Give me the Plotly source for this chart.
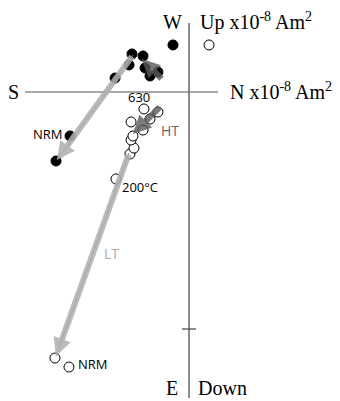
import plotly.graph_objects as go

# Zijderveld diagram data (units x10^-8 Am^2)
# Horizontal projection (filled): N vs W
hz_n = [-1.004, -1.122, -0.624, -0.506, -0.481, -0.388, -0.371, -0.329, -0.262, -0.135]
hz_w = [-0.371, -0.582, 0.118, 0.228, 0.321, 0.304, 0.203, 0.135, 0.169, 0.397]
# Vertical projection (open): N vs Up
vt_n = [-1.013, -1.131, -0.616, -0.498, -0.464, -0.489, -0.473, -0.388, -0.329, -0.262, -0.489, -0.380, 0.169]
vt_up = [-2.321, -2.245, -0.734, -0.523, -0.473, -0.405, -0.371, -0.321, -0.228, -0.169, -0.253, -0.143, 0.397]

# Component fits: [start_n, start_y, end_n, end_y]
lt_h = [-0.473, 0.312, -1.114, -0.574]
lt_v = [-0.506, -0.515, -1.122, -2.228]
ht_h = [-0.219, 0.101, -0.397, 0.278]
ht_v = [-0.236, -0.118, -0.473, -0.354]

n_axis = [-1.384, 0.245]
v_axis = [0.582, -2.582]
tick_v = [-2.0]

S = 118.5
OFF = 8  # page body margin
x_range = [(OFF - 189) / S, (340 - 189) / S]
y_range = [(92 - 401) / S, (92 - OFF) / S]

fig = go.Figure()

# axes
fig.add_trace(go.Scatter(x=n_axis, y=[0, 0], mode="lines",
                         line=dict(color="#555555", width=1), hoverinfo="skip"))
fig.add_trace(go.Scatter(x=[0, 0], y=v_axis, mode="lines",
                         line=dict(color="#666666", width=1.5), hoverinfo="skip"))
fig.add_trace(go.Scatter(x=[0] * len(tick_v), y=tick_v, mode="markers",
                         marker=dict(symbol="line-ew-open", size=10, color="#444444",
                                     line=dict(color="#444444", width=1.2)),
                         hoverinfo="skip"))

# points
fig.add_trace(go.Scatter(x=hz_n, y=hz_w, mode="markers",
                         marker=dict(size=10, color="black",
                                     line=dict(color="black", width=1))))
fig.add_trace(go.Scatter(x=vt_n, y=vt_up, mode="markers",
                         marker=dict(size=10, color="white",
                                     line=dict(color="black", width=1))))

# thin fit lines
for seg, col in [(lt_h, "#777777"), (lt_v, "#777777")]:
    fig.add_trace(go.Scatter(x=[seg[0], seg[2]], y=[seg[1], seg[3]], mode="lines",
                             line=dict(color=col, width=1), hoverinfo="skip"))

fig.update_layout(showlegend=False)

# thick arrows
for seg, col in [(lt_h, "rgba(175,175,175,0.85)"), (lt_v, "rgba(175,175,175,0.85)"),
                 (ht_h, "rgba(90,90,90,0.8)"), (ht_v, "rgba(90,90,90,0.8)")]:
    fig.add_annotation(x=seg[2], y=seg[3], ax=seg[0], ay=seg[1],
                       xref="x", yref="y", axref="x", ayref="y",
                       text="", showarrow=True, arrowhead=2, arrowsize=0.6,
                       arrowwidth=6, arrowcolor=col)

serif = dict(family="Liberation Serif, Times New Roman, serif", size=20, color="black")
sans = dict(family="Open Sans, Noto Sans, sans-serif", size=13, color="black")

def lab(x, y, t, font, xanchor="center"):
    fig.add_annotation(x=x, y=y, xref="x", yref="y", text=t, showarrow=False,
                       font=font, xanchor=xanchor, yanchor="middle")

lab(-0.143, 0.591, "W", serif)
lab(0.076, 0.591, "Up x10<sup>-8</sup> Am<sup>2</sup>", serif, "left")
lab(-1.477, 0.0, "S", serif)
lab(0.330, 0.01, "N x10<sup>-8</sup> Am<sup>2</sup>", serif, "left")
lab(-0.143, -2.498, "E", serif)
lab(0.060, -2.498, "Down", serif, "left")

lab(-0.422, -0.042, "630", sans)
lab(-0.160, -0.321, "HT", dict(family="Open Sans, sans-serif", size=14, color="#666666"))
lab(-1.330, -0.354, "NRM", sans, "left")
lab(-0.580, -0.802, "200°C", sans, "left")
lab(-0.658, -1.359, "LT", dict(family="Open Sans, sans-serif", size=14, color="#aaaaaa"))
lab(-0.950, -2.295, "NRM", sans, "left")

fig.update_xaxes(range=x_range, visible=False, fixedrange=True)
fig.update_yaxes(range=y_range, visible=False, fixedrange=True)
fig.update_layout(width=340 - OFF, height=401 - OFF, margin=dict(l=0, r=0, t=0, b=0),
                  paper_bgcolor="white", plot_bgcolor="white")

fig.write_html("out.html")
